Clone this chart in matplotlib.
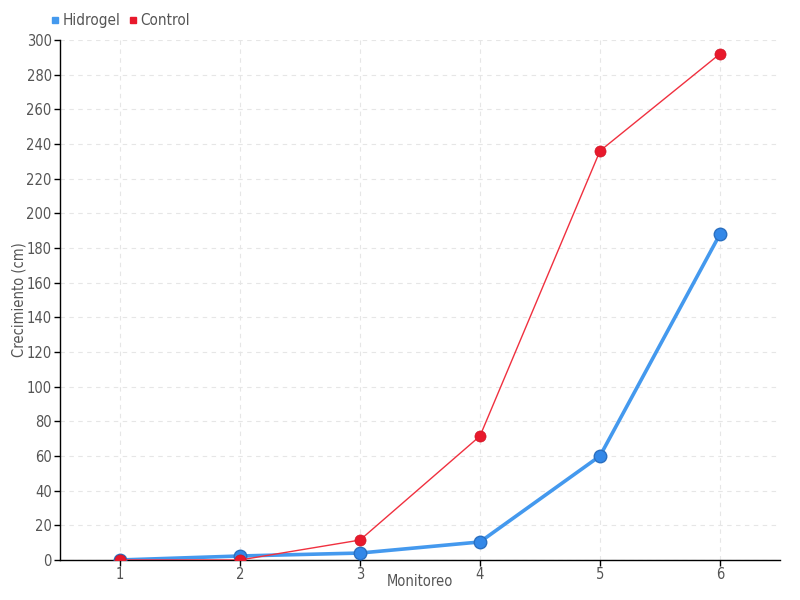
import matplotlib
matplotlib.use("Agg")
import matplotlib.pyplot as plt

# datos
monitoreo = [1, 2, 3, 4, 5, 6]
hidrogel = [0, 2.3, 4, 10.4, 60, 188]
control = [0, 0, 11.5, 71.5, 236, 292]
y_ticks = list(range(0, 301, 20))

plt.rcParams['font.family'] = ['DejaVu Sans']
plt.rcParams['font.stretch'] = 'condensed'
txt = '#555555'

fig = plt.figure(figsize=(8, 6), dpi=100)
ax = fig.add_axes([0.075, 0.0667, 0.9, 0.8667])

ax.plot(monitoreo, hidrogel, color='#4499ee', lw=2.6, marker='o', ms=9,
        markerfacecolor='#3388e8', markeredgecolor='#2a6fc0', markeredgewidth=1,
        label='Hidrogel', zorder=3)
ax.plot(monitoreo, control, color='#f0303f', lw=1, marker='o', ms=8,
        markerfacecolor='#e8192c', markeredgecolor='#d01525', markeredgewidth=0.5,
        label='Control', zorder=4)

ax.set_xlim(0.5, 6.5)
ax.set_ylim(0, 300)
ax.set_xticks(monitoreo)
ax.set_yticks(y_ticks)
ax.grid(True, color='#e6e6e6', linestyle=(0, (4, 4)), lw=0.8)
ax.set_axisbelow(True)

for s in ['top', 'right']:
    ax.spines[s].set_visible(False)
for s in ['left', 'bottom']:
    ax.spines[s].set_color('black')
    ax.spines[s].set_linewidth(1)

ax.tick_params(axis='both', colors='black', labelcolor=txt, labelsize=10.5, length=4, width=1)
ax.tick_params(axis='x', pad=1)
ax.tick_params(axis='y', pad=2)
ax.set_xlabel('Monitoreo', color=txt, fontsize=10.5)
ax.set_ylabel('Crecimiento (cm)', color=txt, fontsize=10.5)
ax.xaxis.set_label_coords(0.5, -0.026)
ax.yaxis.set_label_coords(-0.047, 0.5)

ax.legend(handles=[
    plt.Line2D([], [], ls='', marker='s', ms=5, color='#4499ee', label='Hidrogel'),
    plt.Line2D([], [], ls='', marker='s', ms=5, color='#e8192c', label='Control')],
    loc='lower left', bbox_to_anchor=(0.052, 0.94), bbox_transform=fig.transFigure,
    ncol=2, frameon=False, fontsize=11, labelcolor=txt,
    handletextpad=0.1, columnspacing=0.4, handlelength=0.8, borderpad=0)

fig.savefig('out.png', dpi=100)
